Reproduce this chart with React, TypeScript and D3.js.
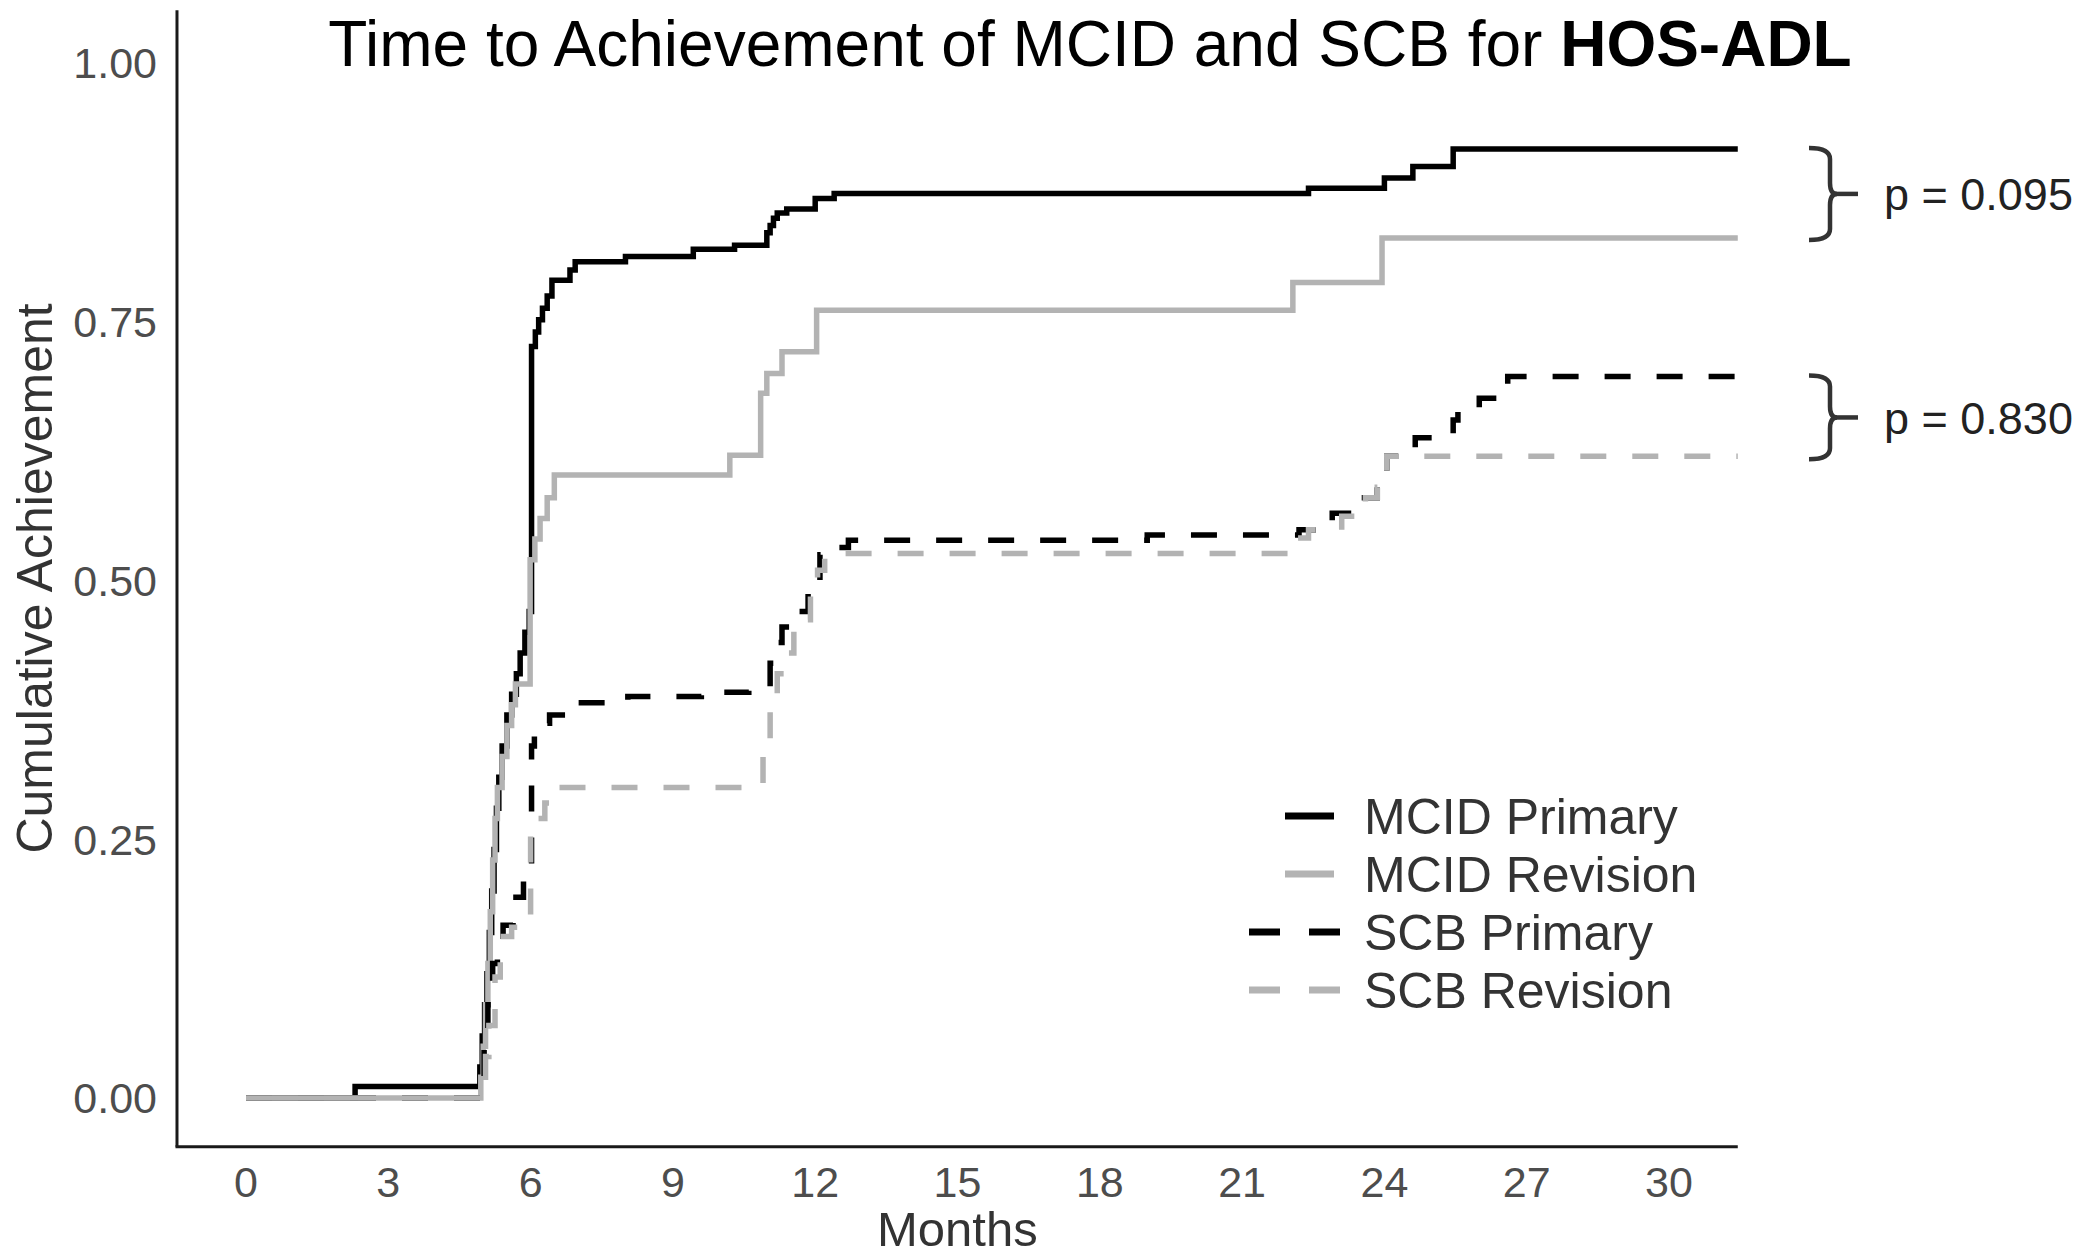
import React from 'react';
import * as d3 from 'd3';

// ---------- DATA ----------
const seriesNames = ['MCID Primary', 'MCID Revision', 'SCB Primary', 'SCB Revision'];

const mcidPrimary: [number, number][] = [
  [0, 0], [2.3, 0.011], [4.93, 0.03], [4.98, 0.06], [5.03, 0.09], [5.08, 0.12], [5.13, 0.16],
  [5.18, 0.2], [5.23, 0.24], [5.28, 0.28], [5.33, 0.31], [5.4, 0.34], [5.5, 0.37], [5.6, 0.39],
  [5.7, 0.41], [5.78, 0.43], [5.88, 0.45], [5.97, 0.47], [6.02, 0.726], [6.1, 0.74], [6.17, 0.752],
  [6.25, 0.763], [6.35, 0.775], [6.45, 0.79], [6.83, 0.8], [6.94, 0.808], [8.0, 0.813], [9.43, 0.82],
  [10.3, 0.824], [10.98, 0.836], [11.05, 0.843], [11.12, 0.85], [11.2, 0.855], [11.4, 0.859],
  [12.0, 0.869], [12.4, 0.874], [22.4, 0.879], [24.0, 0.889], [24.6, 0.9], [25.45, 0.917], [31.45, 0.917],
];

const mcidRevision: [number, number][] = [
  [0, 0], [4.95, 0.02], [5.0, 0.05], [5.05, 0.09], [5.1, 0.13], [5.15, 0.18], [5.2, 0.23], [5.25, 0.27],
  [5.3, 0.3], [5.4, 0.33], [5.5, 0.36], [5.6, 0.38], [5.68, 0.4], [5.99, 0.52], [6.09, 0.54], [6.2, 0.56],
  [6.35, 0.58], [6.5, 0.602], [10.2, 0.621], [10.85, 0.681], [10.98, 0.7], [11.3, 0.721], [12.03, 0.761],
  [22.07, 0.788], [23.95, 0.831], [31.45, 0.831],
];

const scbPrimary: [number, number][] = [
  [0, 0], [4.97, 0.02], [5.02, 0.05], [5.1, 0.09], [5.2, 0.13], [5.3, 0.15], [5.42, 0.167], [5.63, 0.194],
  [5.85, 0.21], [6.0, 0.225], [6.02, 0.34], [6.08, 0.355], [6.24, 0.362], [6.4, 0.37], [6.77, 0.382],
  [8.05, 0.388], [9.6, 0.392], [10.6, 0.397], [11.05, 0.42], [11.12, 0.44], [11.3, 0.455], [11.5, 0.47],
  [11.85, 0.5], [12.1, 0.525], [12.35, 0.532], [12.7, 0.539], [19.0, 0.544], [22.2, 0.549], [22.5, 0.553],
  [22.9, 0.565], [23.4, 0.58], [23.85, 0.597], [24.05, 0.62], [24.65, 0.638], [25.45, 0.655], [25.55, 0.667],
  [26.0, 0.676], [26.6, 0.697], [31.45, 0.697],
];

const scbRevision: [number, number][] = [
  [0, 0], [5.0, 0.02], [5.05, 0.04], [5.12, 0.07], [5.25, 0.117], [5.36, 0.156], [5.6, 0.165], [5.85, 0.172],
  [6.0, 0.25], [6.16, 0.27], [6.3, 0.285], [6.4, 0.3], [10.9, 0.34], [11.05, 0.38], [11.2, 0.41], [11.35, 0.43],
  [11.55, 0.462], [11.9, 0.49], [12.05, 0.51], [12.2, 0.524], [12.4, 0.526], [21.9, 0.541], [22.4, 0.549],
  [23.1, 0.562], [23.6, 0.58], [23.85, 0.59], [24.05, 0.62], [31.45, 0.62],
];

const monthTicks = [0, 3, 6, 9, 12, 15, 18, 21, 24, 27, 30];
const yTicks = [0, 0.25, 0.5, 0.75, 1.0];
const pValues = ['p = 0.095', 'p = 0.830'];

// ---------- STYLE / LAYOUT ----------
const W = 2094;
const H = 1259;
const FONT = '"Liberation Sans", Arial, Helvetica, sans-serif';
const BLACK = '#000000';
const GREY = '#b3b3b3';

const xScale = d3.scaleLinear().domain([0, 30]).range([246, 1669]);
const yScale = d3.scaleLinear().domain([0, 1]).range([1098, 63]);

const X_MIN = -1.455;
const X_MAX = 31.45;
const Y_MIN = -0.047;
const Y_MAX = 1.051;

const lineGen = d3
  .line<[number, number]>()
  .x((d) => xScale(d[0]))
  .y((d) => yScale(d[1]))
  .curve(d3.curveStepAfter);

const series = [
  { name: seriesNames[0], data: mcidPrimary, color: BLACK, dash: undefined as string | undefined },
  { name: seriesNames[1], data: mcidRevision, color: GREY, dash: undefined as string | undefined },
  { name: seriesNames[2], data: scbPrimary, color: BLACK, dash: '26,26' },
  { name: seriesNames[3], data: scbRevision, color: GREY, dash: '26,26' },
];

function bracePath(x0: number, yTop: number, yBot: number) {
  const xv = x0 + 21;
  const r = 11;
  const ym = (yTop + yBot) / 2;
  return (
    `M${x0},${yTop} Q${xv},${yTop} ${xv},${yTop + r} L${xv},${ym - r} Q${xv},${ym} ${xv + 7},${ym} ` +
    `Q${xv},${ym} ${xv},${ym + r} L${xv},${yBot - r} Q${xv},${yBot} ${x0},${yBot}`
  );
}

export default function App() {
  const last = (d: [number, number][]) => d[d.length - 1][1];
  const brackets = [
    { top: yScale(last(mcidPrimary)) - 1, bot: yScale(last(mcidRevision)) + 2, label: pValues[0] },
    { top: yScale(last(scbPrimary)) - 1, bot: yScale(last(scbRevision)) + 3, label: pValues[1] },
  ];

  const legendRows = [816, 874, 932, 990];
  const fmt = d3.format('.2f');

  return (
    <svg
      width={W}
      height={H}
      style={{ position: 'absolute', left: 0, top: 0, background: '#fff' }}
      xmlns="http://www.w3.org/2000/svg"
    >
      <rect x={0} y={0} width={W} height={H} fill="#fff" />

      {/* Title */}
      <text x={1090} y={66} textAnchor="middle" fontFamily={FONT} fontSize={64} fill="#000">
        Time to Achievement of MCID and SCB for <tspan fontWeight="bold">HOS-ADL</tspan>
      </text>

      {/* Axes lines */}
      <line x1={xScale(X_MIN)} x2={xScale(X_MIN)} y1={yScale(Y_MAX)} y2={yScale(Y_MIN)} stroke="#1a1a1a" strokeWidth={3} />
      <line x1={xScale(X_MIN) - 1.5} x2={xScale(X_MAX)} y1={yScale(Y_MIN)} y2={yScale(Y_MIN)} stroke="#1a1a1a" strokeWidth={3} />

      {/* Y tick labels */}
      {yTicks.map((t) => (
        <text
          key={t}
          x={157}
          y={yScale(t)}
          dy="0.36em"
          textAnchor="end"
          fontFamily={FONT}
          fontSize={43}
          fill="#4d4d4d"
        >
          {fmt(t)}
        </text>
      ))}

      {/* X tick labels */}
      {monthTicks.map((t) => (
        <text key={t} x={xScale(t)} y={1197} textAnchor="middle" fontFamily={FONT} fontSize={43} fill="#4d4d4d">
          {t}
        </text>
      ))}

      {/* Axis titles */}
      <text x={(xScale(X_MIN) + xScale(X_MAX)) / 2} y={1246} textAnchor="middle" fontFamily={FONT} fontSize={49} fill="#333">
        Months
      </text>
      <text
        transform={`translate(52, ${(yScale(Y_MAX) + yScale(Y_MIN)) / 2}) rotate(-90)`}
        textAnchor="middle"
        fontFamily={FONT}
        fontSize={50}
        fill="#333"
      >
        Cumulative Achievement
      </text>

      {/* Curves */}
      {series.map((s) => (
        <path
          key={s.name}
          d={lineGen(s.data) || ''}
          fill="none"
          stroke={s.color}
          strokeWidth={5.5}
          strokeDasharray={s.dash}
          strokeLinejoin="miter"
        />
      ))}

      {/* Legend */}
      {series.map((s, i) => (
        <g key={s.name}>
          {s.dash ? (
            <line x1={1249} x2={1341} y1={legendRows[i]} y2={legendRows[i]} stroke={s.color} strokeWidth={7} strokeDasharray="31,29" />
          ) : (
            <line x1={1285} x2={1334} y1={legendRows[i]} y2={legendRows[i]} stroke={s.color} strokeWidth={7} />
          )}
          <text x={1364} y={legendRows[i]} dy="0.36em" fontFamily={FONT} fontSize={50} fill="#333">
            {s.name}
          </text>
        </g>
      ))}

      {/* Brackets and p-values */}
      {brackets.map((b) => (
        <g key={b.label}>
          <path d={bracePath(1809, b.top, b.bot)} fill="none" stroke="#333" strokeWidth={4.5} />
          <line x1={1833} x2={1858} y1={(b.top + b.bot) / 2} y2={(b.top + b.bot) / 2} stroke="#333" strokeWidth={4.5} />
          <text x={1884} y={(b.top + b.bot) / 2} dy="0.36em" fontFamily={FONT} fontSize={45} fill="#222">
            {b.label}
          </text>
        </g>
      ))}
    </svg>
  );
}
